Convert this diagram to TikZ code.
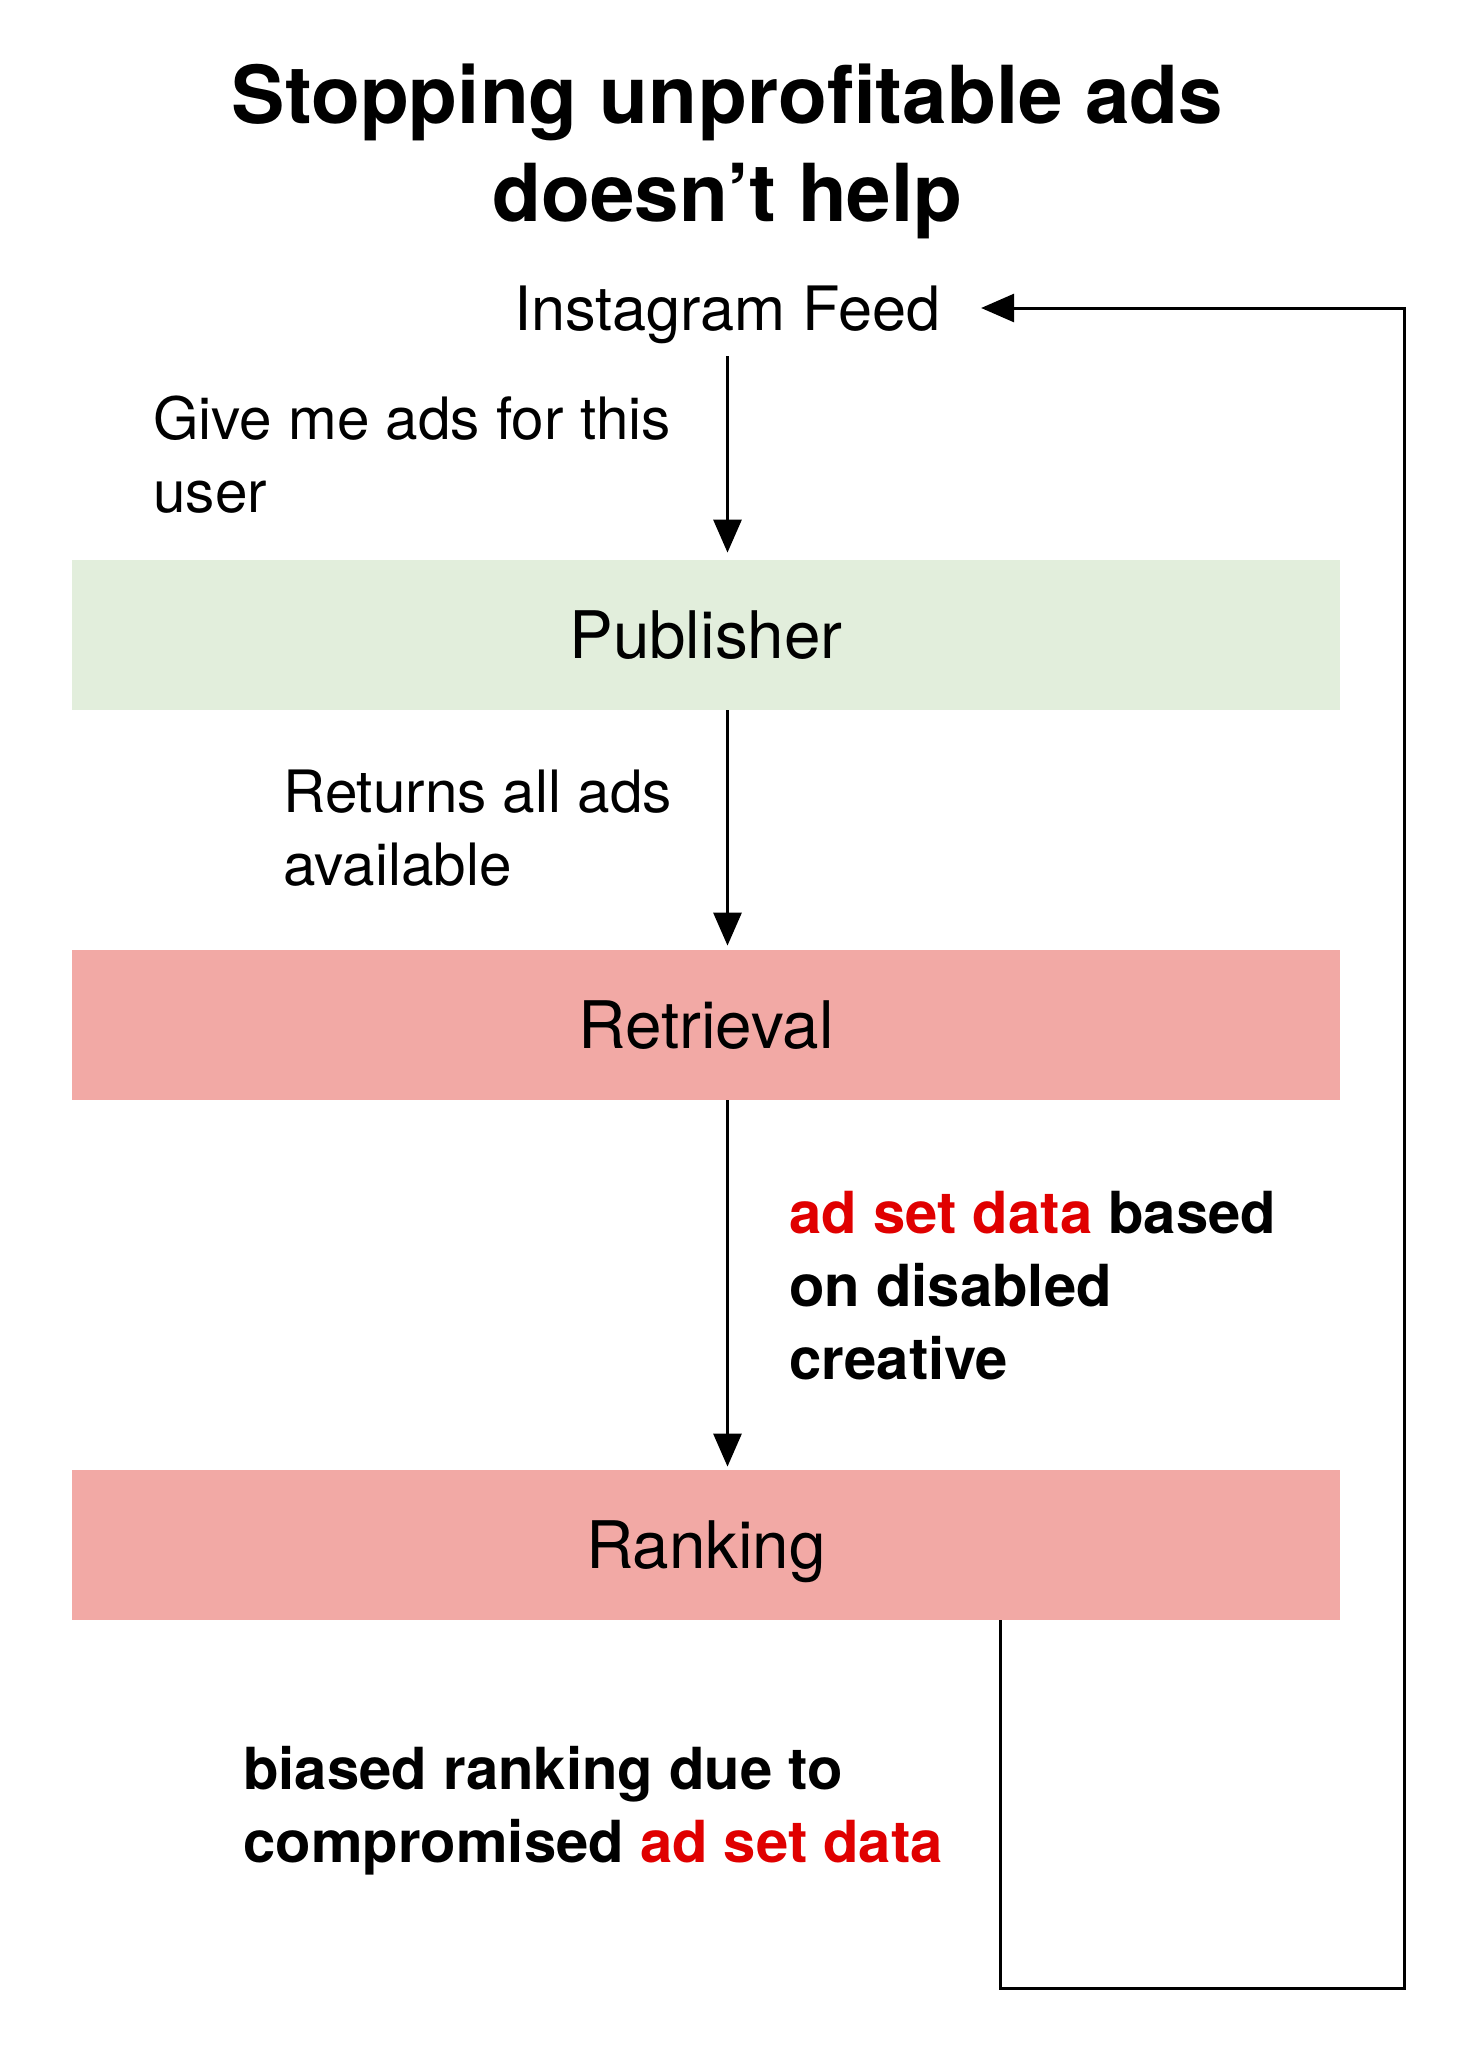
\documentclass[tikz,border=0pt]{standalone}
\usepackage{fontspec}
\setmainfont{TeX Gyre Heros}
\usetikzlibrary{arrows.meta}
\definecolor{pubgreen}{RGB}{226,238,220}
\definecolor{boxpink}{RGB}{242,169,165}
\definecolor{hotred}{RGB}{224,0,0}
\begin{document}
\begin{tikzpicture}[x=0.5pt,y=-0.5pt,
  stage/.style={rectangle, fill=#1, draw=none, minimum width=634pt, minimum height=75pt,
    inner sep=0pt, font=\fontsize{32.8pt}{38pt}\selectfont, text height=23.6pt, text depth=0pt},
  lbl/.style={anchor=base west, inner sep=0pt, font=\fontsize{29.2pt}{36.5pt}\selectfont},
  boldlbl/.style={lbl, font=\fontsize{29pt}{36.5pt}\selectfont\bfseries},
  flow/.style={-{Triangle[length=16.5pt,width=14pt]}, line width=1.5pt},
]
\useasboundingbox (0,0) rectangle (1456,2050);

% title
\node[anchor=base, inner sep=0pt, font=\fontsize{40pt}{49pt}\selectfont\bfseries] (title) at (727.5,124)
  {\parbox[t]{700pt}{\centering Stopping unprofitable ads\\doesn’t help}};

% source
\node[anchor=base, inner sep=0pt, font=\fontsize{30.6pt}{36pt}\selectfont, text depth=13pt] (feed) at (727.5,330) {Instagram Feed};

% stages
\node[stage=pubgreen] (pub) at (706,635) {Publisher};
\node[stage=boxpink] (ret) at (706,1025) {Retrieval};
\node[stage=boxpink] (rank) at (706,1545) {Ranking};

% labels
\node[lbl] (give) at (153,439) {\parbox[t]{300pt}{Give me ads for this\\user}};
\node[lbl] (returns) at (283,812) {\parbox[t]{300pt}{Returns all ads\\available}};
\node[boldlbl] (adset) at (789,1233) {\parbox[t]{300pt}{\textcolor{hotred}{ad set data} based\\on disabled\\creative}};
\node[boldlbl] (biased) at (243,1789) {\parbox[t]{400pt}{biased ranking due to\\compromised \textcolor{hotred}{ad set data}}};

% connectors
\draw[flow, shorten >=3.5pt] (feed.south) -- (feed.south |- pub.north);
\draw[flow, shorten >=2pt] (pub.south -| feed.south) -- (ret.north -| feed.south);
\draw[flow, shorten >=1.5pt] (ret.south -| feed.south) -- (rank.north -| feed.south);

\coordinate (c1) at (1000,1988);
\coordinate (c2) at (1404,1988);
\coordinate (c3) at (1404,308);
\draw[flow, shorten >=20pt] (rank.south -| c1) -- (c1) -- (c2) -- (c3) -- (c3 -| feed.east);
\end{tikzpicture}
\end{document}
